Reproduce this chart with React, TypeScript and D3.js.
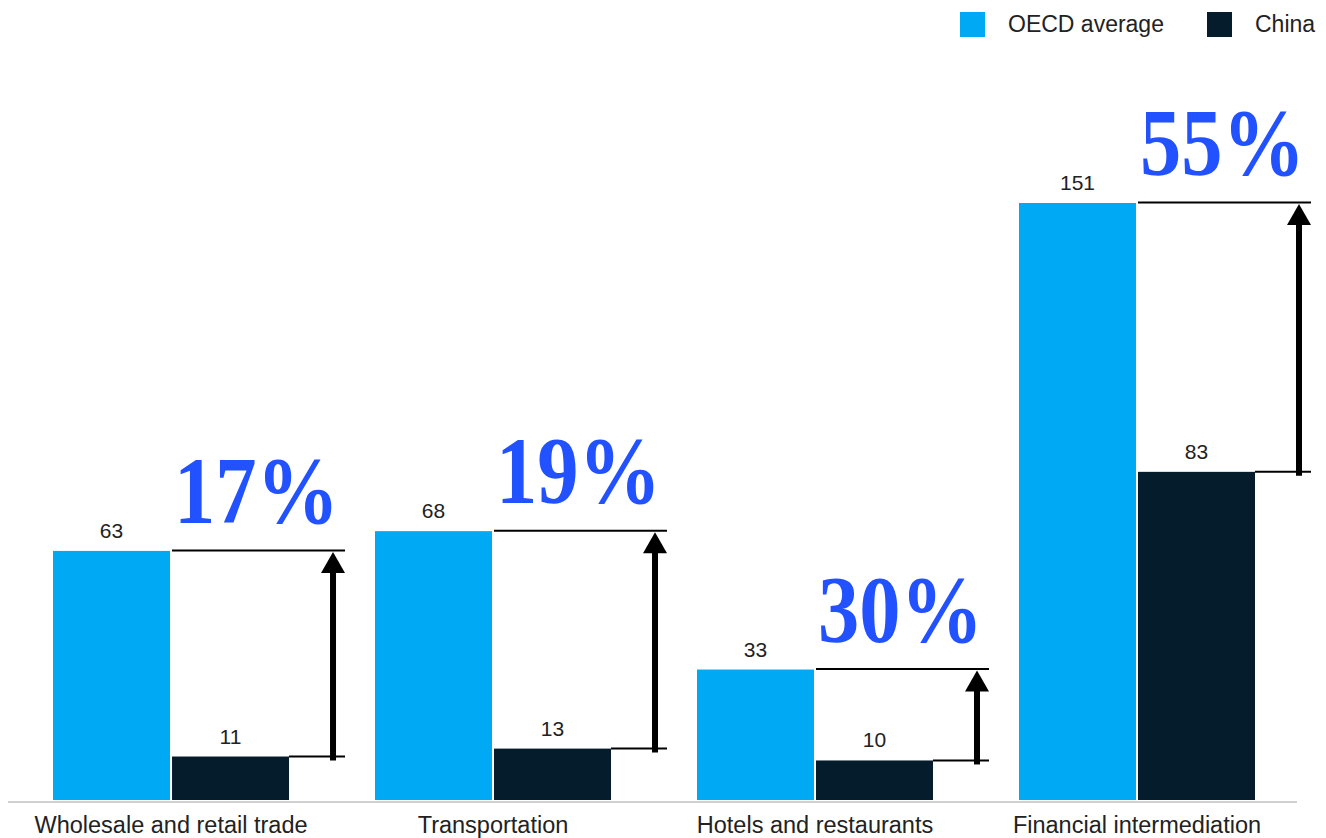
import React from "react";
import * as d3 from "d3";

const categories = ["Wholesale and retail trade", "Transportation", "Hotels and restaurants", "Financial intermediation"];
const oecdValues = [63, 68, 33, 151];
const chinaValues = [11, 13, 10, 83];
const shareLabels = ["17%", "19%", "30%", "55%"];
const seriesNames = ["OECD average", "China"];
const seriesColors = ["#00A9F4", "#051C2C"];

const W = 1326;
const H = 838;

export default function App() {
  const x = d3.scaleBand<string>().domain(categories).range([53, 1255]).paddingInner(0.267).paddingOuter(0);
  const sub = d3.scaleBand<string>().domain(seriesNames).range([0, x.bandwidth()]).paddingInner(0.017);
  const y = d3.scaleLinear().domain([0, 151]).range([800, 203]);
  const sans = "'Liberation Sans', Arial, sans-serif";

  return (
    <svg width={W} height={H} style={{ position: "absolute", left: 0, top: 0, background: "#fff" }}>
      {seriesNames.map((s, i) => {
        const lx = i === 0 ? 960 : 1207;
        return (
          <g key={s}>
            <rect x={lx} y={12} width={25} height={25} fill={seriesColors[i]} />
            <text x={lx + 48} y={32} fontFamily={sans} fontSize={23} fill="#222">{s}</text>
          </g>
        );
      })}
      <line x1={8} x2={1297} y1={802} y2={802} stroke="#d0d0d0" strokeWidth={2} />
      {categories.map((c, i) => {
        const gx = x(c)!;
        const ox = gx + sub(seriesNames[0])!;
        const cx = gx + sub(seriesNames[1])!;
        const bw = sub.bandwidth();
        const yo = y(oecdValues[i]);
        const yc = y(chinaValues[i]);
        const lineEnd = cx + 173;
        const ax = cx + 161;
        return (
          <g key={c}>
            <rect x={ox} y={yo} width={bw} height={y(0) - yo} fill={seriesColors[0]} />
            <rect x={cx} y={yc} width={bw} height={y(0) - yc} fill={seriesColors[1]} />
            <text x={ox + bw / 2} y={yo - 13} textAnchor="middle" fontFamily={sans} fontSize={21} fill="#222">{oecdValues[i]}</text>
            <text x={cx + bw / 2} y={yc - 13} textAnchor="middle" fontFamily={sans} fontSize={21} fill="#222">{chinaValues[i]}</text>
            <text x={x(c)! + x.bandwidth() / 2} y={833} textAnchor="middle" fontFamily={sans} fontSize={23.5} fill="#222">{c}</text>
            <line x1={cx} x2={lineEnd} y1={yo - 0.5} y2={yo - 0.5} stroke="#000" strokeWidth={2} />
            <line x1={cx + bw} x2={lineEnd} y1={yc} y2={yc} stroke="#000" strokeWidth={2} />
            <line x1={ax} x2={ax} y1={yc + 4} y2={yo + 18} stroke="#000" strokeWidth={6} />
            <path d={`M${ax - 12},${yo + 22} L${ax},${yo + 1} L${ax + 12},${yo + 22} Z`} fill="#000" />
            <text
              transform={`translate(${cx + 2},${yo - 28}) scale(0.86,1)`}
              fontFamily="'Liberation Serif', 'Times New Roman', serif"
              fontWeight="bold"
              fontSize={96}
              fill="#2251FF"
            >
              {shareLabels[i]}
            </text>
          </g>
        );
      })}
    </svg>
  );
}
